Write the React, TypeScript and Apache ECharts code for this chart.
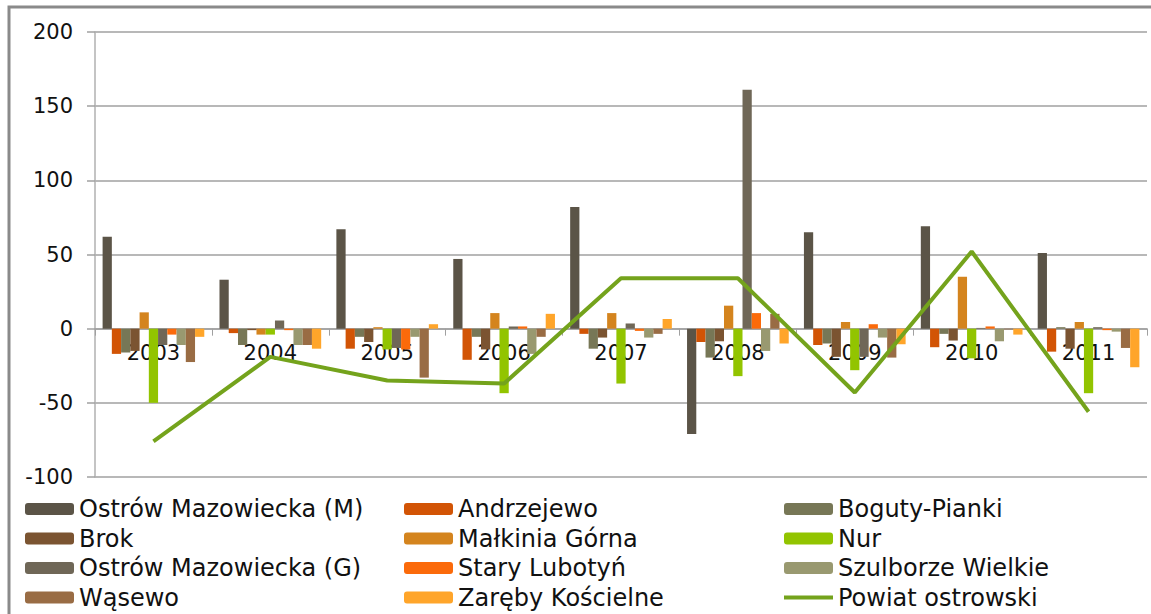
import React, { useEffect, useRef } from "react";
import * as echarts from "echarts";

const years = ["2003", "2004", "2005", "2006", "2007", "2008", "2009", "2010", "2011"];

const ostrowM = [62, 33, 67, 47, 82, -71, 65, 69, 51];
const andrzejewo = [-17, -3, -13.5, -21, -3.5, -9, -11, -12.5, -15.5];
const boguty = [-16, -11, -5.5, -5.5, -13.5, -19.5, -10, -3.5, 1];
const brok = [-15, -1, -9, -14, -6, -8.5, -19, -8, -13.5];
const malkinia = [11, -4, 1, 10.5, 10.5, 15.5, 4.5, 35, 4.5];
const nur = [-50, -4, -14, -43.5, -37, -32, -28, -20, -43.5];
const ostrowG = [-11, 5.5, -13, 1.5, 3.5, 161, -19, 0.5, 1];
const staryLubotyn = [-4, -1, -14, 1.5, -1.5, 10.5, 3, 1.5, -1];
const szulborze = [-11, -11, -5.5, -17, -6, -15, -6, -8.5, -2];
const wasewo = [-22.5, -11, -33, -5.5, -3.5, 10, -19.5, -0.5, -13];
const zareby = [-5.5, -13.5, 3, 10, 6.5, -10, -10.5, -4, -26];
const powiat = [-76, -19, -35, -37, 34, 34, -43, 52, -56];

const yTicks = [-100, -50, 0, 50, 100, 150, 200];

const barNames = [
  "Ostrów Mazowiecka (M)",
  "Andrzejewo",
  "Boguty-Pianki",
  "Brok",
  "Małkinia Górna",
  "Nur",
  "Ostrów Mazowiecka (G)",
  "Stary Lubotyń",
  "Szulborze Wielkie",
  "Wąsewo",
  "Zaręby Kościelne",
];
const barData = [ostrowM, andrzejewo, boguty, brok, malkinia, nur, ostrowG, staryLubotyn, szulborze, wasewo, zareby];
const barColors = [
  "#5b5447",
  "#d25405",
  "#777756",
  "#7b5431",
  "#d4841e",
  "#92c400",
  "#6f6757",
  "#fb6a0a",
  "#999970",
  "#996c44",
  "#ffa52a",
];
const lineName = "Powiat ostrowski";
const lineColor = "#74a31c";

const FONT = "DejaVu Sans";

const GRID_TOP = 32;
const GRID_BOTTOM = 137;
const CHART_H = 614;

export default function App() {
  const ref = useRef<HTMLDivElement>(null);
  useEffect(() => {
    if (!ref.current) return;
    const chart = echarts.init(ref.current, null, { renderer: "svg" });
    const yMin = yTicks[0];
    const yMax = yTicks[yTicks.length - 1];
    const plotH = CHART_H - GRID_TOP - GRID_BOTTOM;
    const zeroOffset = -(plotH * (0 - yMin)) / (yMax - yMin);
    const barSeries = barNames.map((name, i) => ({
      name,
      type: "bar",
      data: barData[i],
      barGap: "0%",
      barCategoryGap: "13%",
      itemStyle: { color: barColors[i] },
    }));
    const legendBase = {
      orient: "vertical",
      top: 497,
      padding: 0,
      itemWidth: 49,
      itemHeight: 12,
      itemGap: 5.5,
      symbolKeepAspect: true,
      textStyle: { fontFamily: FONT, fontSize: 24, color: "#111", lineHeight: 24 },
    };
    chart.setOption({
      animation: false,
      backgroundColor: "#fff",
      graphic: [
        {
          type: "rect",
          shape: { x: 9, y: 7, width: 1170, height: 640 },
          style: { fill: "none", stroke: "#8a8a8a", lineWidth: 3 },
          silent: true,
        },
      ],
      grid: { left: 95, right: 4, top: GRID_TOP, bottom: GRID_BOTTOM },
      legend: [
        { ...legendBase, left: 25, data: [barNames[0], barNames[3], barNames[6], barNames[9]] },
        { ...legendBase, left: 404, data: [barNames[1], barNames[4], barNames[7], barNames[10]] },
        {
          ...legendBase,
          left: 784,
          data: [
            barNames[2],
            barNames[5],
            barNames[8],
            {
              name: lineName,
              icon: "path://M0,0L49,0L49,4L0,4Z",
              itemStyle: { color: lineColor },
            },
          ],
        },
      ],
      xAxis: {
        type: "category",
        data: years,
        offset: zeroOffset,
        axisLine: { onZero: false, lineStyle: { color: "#a0a0a0", width: 1.5 } },
        axisTick: { show: true, length: 7, lineStyle: { color: "#a0a0a0" } },
        axisLabel: { fontFamily: FONT, fontSize: 21, color: "#111", margin: 14 },
        z: 1,
      },
      yAxis: {
        type: "value",
        min: yMin,
        max: yMax,
        interval: 50,
        axisLine: { show: true, lineStyle: { color: "#b0b0b0", width: 1.5 } },
        axisTick: { show: true, length: 8, lineStyle: { color: "#a0a0a0", width: 1.5 } },
        splitLine: { lineStyle: { color: "#a0a0a0", width: 1.5 } },
        axisLabel: { fontFamily: FONT, fontSize: 21, color: "#111", margin: 22 },
      },
      series: [
        ...barSeries,
        {
          name: lineName,
          type: "line",
          data: powiat,
          symbol: "none",
          lineStyle: { color: lineColor, width: 4 },
          itemStyle: { color: lineColor },
          z: 5,
        },
      ],
    });
    return () => chart.dispose();
  }, []);
  return (
    <div
      ref={ref}
      style={{ position: "absolute", left: 0, top: 0, width: 1151, height: 614 }}
    />
  );
}
